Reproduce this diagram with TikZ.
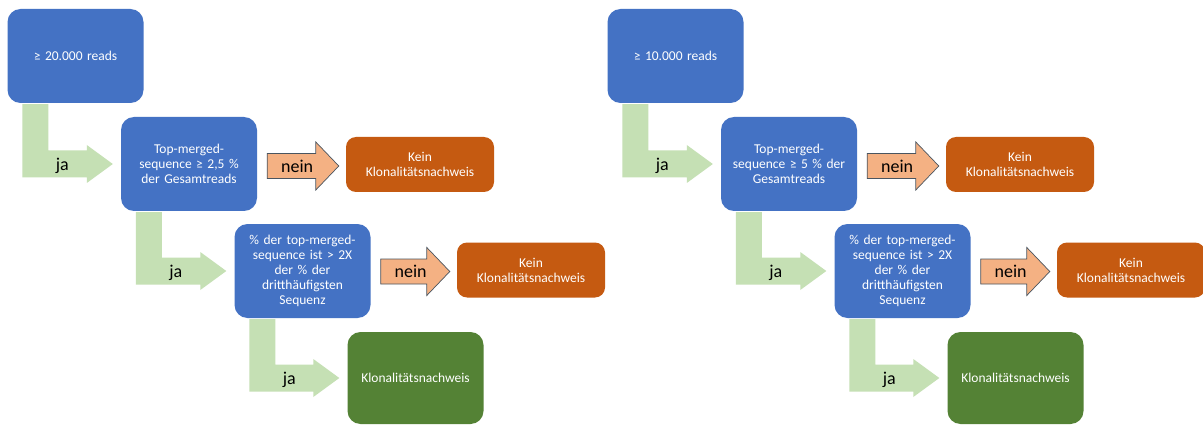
\documentclass[tikz,border=0pt]{standalone}
\usepackage{fontspec}
\setmainfont{Carlito}
\usetikzlibrary{calc}
\definecolor{boxblue}{HTML}{4472C4}
\definecolor{boxorange}{HTML}{C55A11}
\definecolor{boxgreen}{HTML}{548235}
\definecolor{arrgreen}{HTML}{C5E0B4}
\definecolor{arrorange}{HTML}{F4B183}
\definecolor{arrline}{HTML}{4A5560}
\tikzset{
  box/.style={rounded corners=13pt, text=white, align=center, inner sep=2pt,
    minimum width=136pt, minimum height=94pt, text width=128pt,
    font=\fontsize{13.5}{15}\selectfont},
  bluebox/.style={box, fill=boxblue},
  greenbox/.style={box, fill=boxgreen, minimum height=92pt},
  keinbox/.style={box, fill=boxorange, rounded corners=10pt, minimum width=148pt,
    minimum height=55pt, text width=140pt},
  lbl/.style={text=black, font=\fontsize{18}{20}\selectfont, inner sep=0pt},
  neinshape/.style={fill=arrorange, draw=arrline, line width=0.7pt, line join=miter},
  jashape/.style={fill=arrgreen}
}
\newcommand\bentarr[3]{%
  \path[jashape] let \p1=(#1.south west), \p2=(#2.west) in
    (\x1+15pt,\y1-1pt) -- (\x1+41pt,\y1-1pt) -- (\x1+41pt,\y2+13.5pt)
    -- (\x2-34pt,\y2+13.5pt) -- (\x2-34pt,\y2+19pt) -- (\x2-8pt,\y2)
    -- (\x2-34pt,\y2-19pt) -- (\x2-34pt,\y2-13.5pt) -- (\x1+15pt,\y2-13.5pt) -- cycle
    (\x1+55pt,\y2-2pt) node[lbl] (#3) {ja};
}
\newcommand\neinarr[3]{%
  \path[neinshape] let \p1=(#1.east), \p2=($(#2.west)+(0,1.5)$) in
    (\x1+10pt,\y2+12.5pt) -- (\x2-30pt,\y2+12.5pt) -- (\x2-30pt,\y2+24pt)
    -- (\x2-7pt,\y2) -- (\x2-30pt,\y2-24pt) -- (\x2-30pt,\y2-12.5pt)
    -- (\x1+10pt,\y2-12.5pt) -- cycle
    (\x1+40pt,\y2) node[lbl] (#3) {nein};
}
\begin{document}
\begin{tikzpicture}[x=1pt,y=-1pt]
\useasboundingbox[fill=white] (0,0) rectangle (1203,425);
% ---------- left panel ----------
\node[bluebox] (A1) at (75.5,56) {≥ 20.000 reads};
\node[bluebox] (B1) at (189,164) {Top-merged-\\sequence ≥ 2,5 \%\\der Gesamtreads};
\node[bluebox] (C1) at (302.5,271) {\% der top-merged-\\sequence ist > 2X\\der \% der\\dritthäufigsten\\Sequenz};
\node[greenbox] (D1) at (415.5,378) {Klonalitätsnachweis};
\node[keinbox] (K1a) at (420,164.5) {Kein\\Klonalitätsnachweis};
\node[keinbox] (K1b) at (531,270) {Kein\\Klonalitätsnachweis};
\bentarr{A1}{B1}{ja1a}
\bentarr{B1}{C1}{ja1b}
\bentarr{C1}{D1}{ja1c}
\neinarr{B1}{K1a}{nein1a}
\neinarr{C1}{K1b}{nein1b}
% ---------- right panel ----------
\node[bluebox] (A2) at (675.5,56) {≥ 10.000 reads};
\node[bluebox] (B2) at (789,164) {Top-merged-\\sequence ≥ 5 \% der\\Gesamtreads};
\node[bluebox] (C2) at (902.5,271) {\% der top-merged-\\sequence ist > 2X\\der \% der\\dritthäufigsten\\Sequenz};
\node[greenbox] (D2) at (1015.5,378) {Klonalitätsnachweis};
\node[keinbox] (K2a) at (1020,164.5) {Kein\\Klonalitätsnachweis};
\node[keinbox] (K2b) at (1131,270) {Kein\\Klonalitätsnachweis};
\bentarr{A2}{B2}{ja2a}
\bentarr{B2}{C2}{ja2b}
\bentarr{C2}{D2}{ja2c}
\neinarr{B2}{K2a}{nein2a}
\neinarr{C2}{K2b}{nein2b}
\end{tikzpicture}
\end{document}
